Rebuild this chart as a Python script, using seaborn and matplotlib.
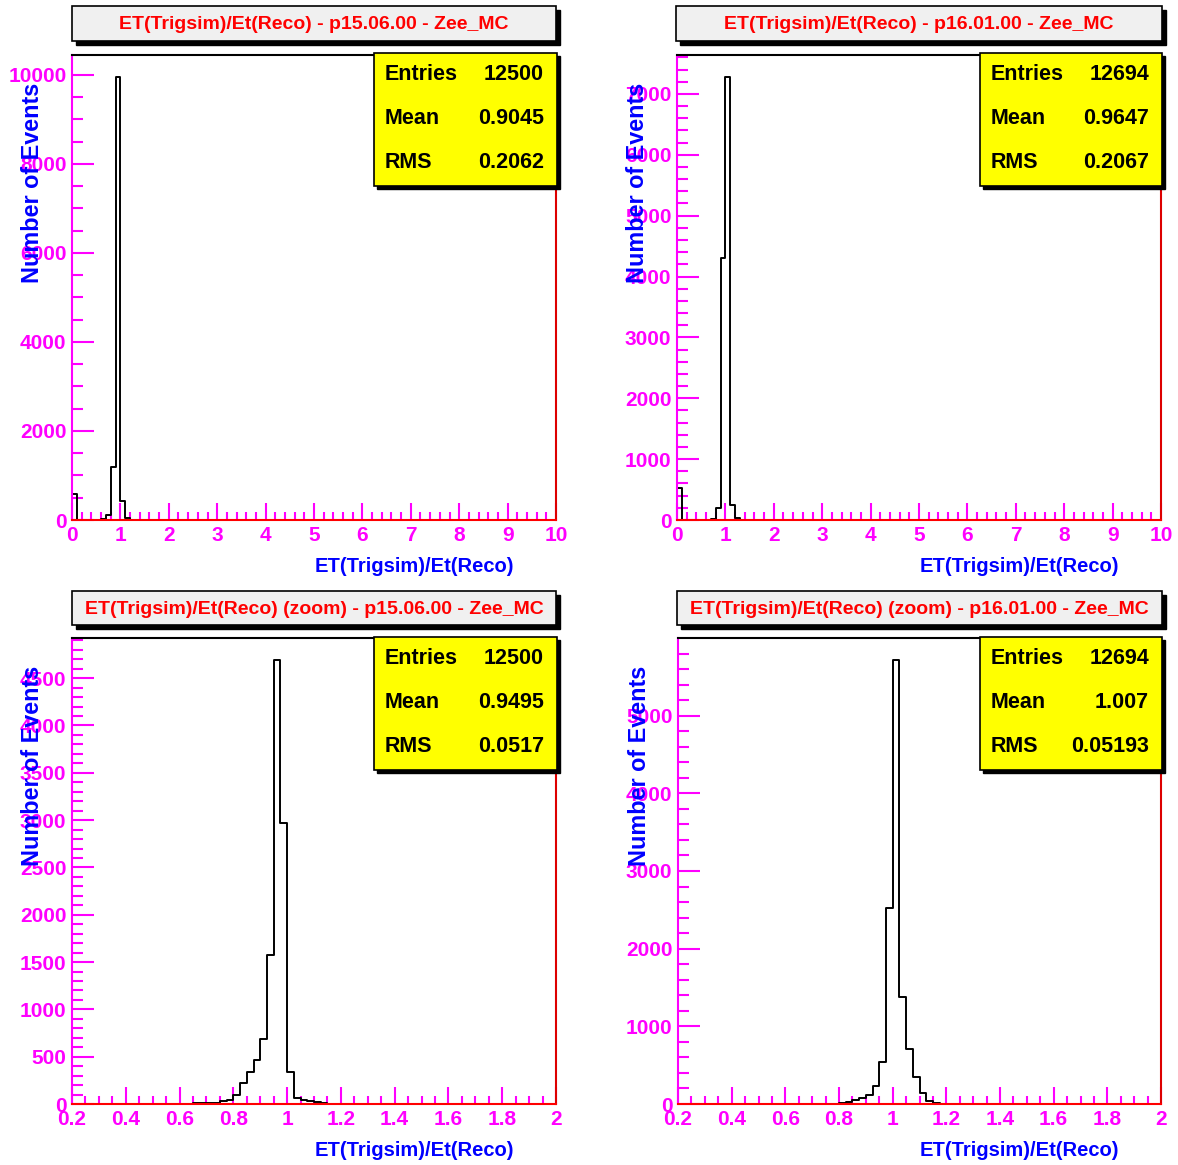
import numpy as np
import pandas as pd
import matplotlib
matplotlib.use("Agg")
import matplotlib.pyplot as plt
import seaborn as sns
from matplotlib.patches import Rectangle
from matplotlib.ticker import MultipleLocator

sns.set_style("white")
plt.rcParams['font.family'] = ['Liberation Sans', 'DejaVu Sans']
plt.rcParams['font.weight'] = 'bold'

W, H = 1178, 1165

# ----------------------
# data
# ----------------------
x_title = "ET(Trigsim)/Et(Reco)"
y_title = "Number of Events"

# full range, bin width 0.1, 0..10
p15_full_lo = [0.0, 0.6, 0.7, 0.8, 0.9, 1.0, 1.1, 1.2]
p15_full_n = [590, 15, 110, 1180, 9950, 420, 45, 8]
p16_full_lo = [0.0, 0.7, 0.8, 0.9, 1.0, 1.1, 1.2]
p16_full_n = [520, 15, 200, 4300, 7275, 240, 30]

# zoom, bin width 0.025, 0.2..2
p15_zoom_lo = [0.65, 0.675, 0.7, 0.725, 0.75, 0.775, 0.8, 0.825, 0.85, 0.875, 0.9,
               0.925, 0.95, 0.975, 1.0, 1.025, 1.05, 1.075, 1.1, 1.125, 1.15]
p15_zoom_n = [8, 10, 12, 15, 28, 42, 99, 225, 338, 469, 691,
              1572, 4690, 2967, 338, 63, 42, 28, 18, 8, 5]
p16_zoom_lo = [0.8, 0.825, 0.85, 0.875, 0.9, 0.925, 0.95, 0.975, 1.0, 1.025,
               1.05, 1.075, 1.1, 1.125, 1.15, 1.175]
p16_zoom_n = [10, 21, 51, 77, 120, 236, 541, 2518, 5714, 1373,
              708, 352, 142, 43, 10, 5]

titles = ["ET(Trigsim)/Et(Reco) - p15.06.00 - Zee_MC",
          "ET(Trigsim)/Et(Reco) - p16.01.00 - Zee_MC",
          "ET(Trigsim)/Et(Reco) (zoom) - p15.06.00 - Zee_MC",
          "ET(Trigsim)/Et(Reco) (zoom) - p16.01.00 - Zee_MC"]
stats = [("12500", "0.9045", "0.2062"),
         ("12694", "0.9647", "0.2067"),
         ("12500", "0.9495", "0.0517"),
         ("12694", "1.007", "0.05193")]


def fx(px):
    return px / W


def fy(py):
    return 1 - py / H


def box(fig, l, t, r, b, face, shadow):
    fig.add_artist(Rectangle((fx(l + shadow), fy(b + shadow)), (r - l) / W, (b - t) / H,
                             transform=fig.transFigure, facecolor='black',
                             edgecolor='black', zorder=5))
    fig.add_artist(Rectangle((fx(l), fy(b)), (r - l) / W, (b - t) / H,
                             transform=fig.transFigure, facecolor=face,
                             edgecolor='black', linewidth=1.2, zorder=6))


panels = [
    dict(lo=p15_full_lo, n=p15_full_n, bw=0.1, rng=(0, 10), xmaj=1, xmin=0.2, ymaj=2000, ymin=500,
         ax=(72, 55, 556, 520), tbox=(72, 6, 556, 41), sbox=(374, 53, 557, 186)),
    dict(lo=p16_full_lo, n=p16_full_n, bw=0.1, rng=(0, 10), xmaj=1, xmin=0.2, ymaj=1000, ymin=200,
         ax=(677, 55, 1161, 520), tbox=(676, 6, 1162, 41), sbox=(980, 53, 1162, 186)),
    dict(lo=p15_zoom_lo, n=p15_zoom_n, bw=0.025, rng=(0.2, 2), xmaj=0.2, xmin=0.05, ymaj=500, ymin=100,
         ax=(72, 638, 556, 1104), tbox=(72, 591, 556, 625), sbox=(374, 637, 557, 770)),
    dict(lo=p16_zoom_lo, n=p16_zoom_n, bw=0.025, rng=(0.2, 2), xmaj=0.2, xmin=0.05, ymaj=1000, ymin=200,
         ax=(678, 638, 1161, 1104), tbox=(677, 591, 1162, 625), sbox=(980, 637, 1162, 770)),
]

fig = plt.figure(figsize=(W / 100, H / 100), dpi=100)
fig.patch.set_facecolor('white')

for i, p in enumerate(panels):
    l, t, r, b = p['ax']
    ax = fig.add_axes([fx(l), fy(b), (r - l) / W, (b - t) / H])
    nb = int(round((p['rng'][1] - p['rng'][0]) / p['bw']))
    edges = list(np.linspace(p['rng'][0], p['rng'][1], nb + 1))
    df = pd.DataFrame({'x': np.array(p['lo']) + p['bw'] / 2, 'w': p['n']})
    sns.histplot(data=df, x='x', weights='w', bins=edges, element='step', fill=False,
                 color='black', linewidth=1.4, ax=ax)
    ax.set_xlim(*p['rng'])
    ax.set_ylim(0, 1.05 * max(p['n']))
    ax.set_xlabel('')
    ax.set_ylabel('')
    ax.xaxis.set_major_locator(MultipleLocator(p['xmaj']))
    ax.xaxis.set_minor_locator(MultipleLocator(p['xmin']))
    ax.yaxis.set_major_locator(MultipleLocator(p['ymaj']))
    ax.yaxis.set_minor_locator(MultipleLocator(p['ymin']))
    ax.xaxis.set_major_formatter(plt.FuncFormatter(lambda v, pos: f"{v:g}"))
    ax.tick_params(which='both', direction='in', colors='#ff00ff', labelsize=15,
                   width=1.5, top=False, right=False, bottom=True, left=True)
    ax.tick_params(axis='x', which='major', length=12, pad=4)
    ax.tick_params(axis='x', which='minor', length=6)
    ax.tick_params(axis='y', which='major', length=16, pad=4)
    ax.tick_params(axis='y', which='minor', length=8)
    for lab in ax.get_xticklabels() + ax.get_yticklabels():
        lab.set_fontweight('bold')
    ax.spines['left'].set_color('#ff00ff')
    ax.spines['bottom'].set_color('#ff0000')
    ax.spines['top'].set_color('black')
    ax.spines['right'].set_color('#dd0000')
    for s in ax.spines.values():
        s.set_linewidth(1.5)

    ah = b - t
    aw = r - l
    ax.text(1 - 42 / aw, -46 / ah, x_title, transform=ax.transAxes, ha='right', va='center',
            color='#0000ff', fontsize=14.5, fontweight='bold')
    ax.text(-39 / aw, 1 - 28 / ah, y_title, transform=ax.transAxes, rotation=90,
            ha='center', va='top', color='#0000ff', fontsize=16.8, fontweight='bold')

    # title box
    tl, tt, tr, tb = p['tbox']
    box(fig, tl, tt, tr, tb, '#f0f0f0', 4)
    fig.text(fx((tl + tr) / 2), fy((tt + tb) / 2 + 1), titles[i], ha='center', va='center',
             color='#ff0000', fontsize=14, fontweight='bold', zorder=7)

    # stats box
    sl, st, sr, sb = p['sbox']
    box(fig, sl, st, sr, sb, '#ffff00', 3)
    for k, (name, val) in enumerate(zip(["Entries", "Mean", "RMS"], stats[i])):
        yy = st + 22 + k * 44
        fig.text(fx(sl + 11), fy(yy), name, ha='left', va='center', color='black',
                 fontsize=15.5, fontweight='bold', zorder=7)
        fig.text(fx(sr - 13), fy(yy), val, ha='right', va='center', color='black',
                 fontsize=15.5, fontweight='bold', zorder=7)

fig.savefig("out.png", dpi=100)
